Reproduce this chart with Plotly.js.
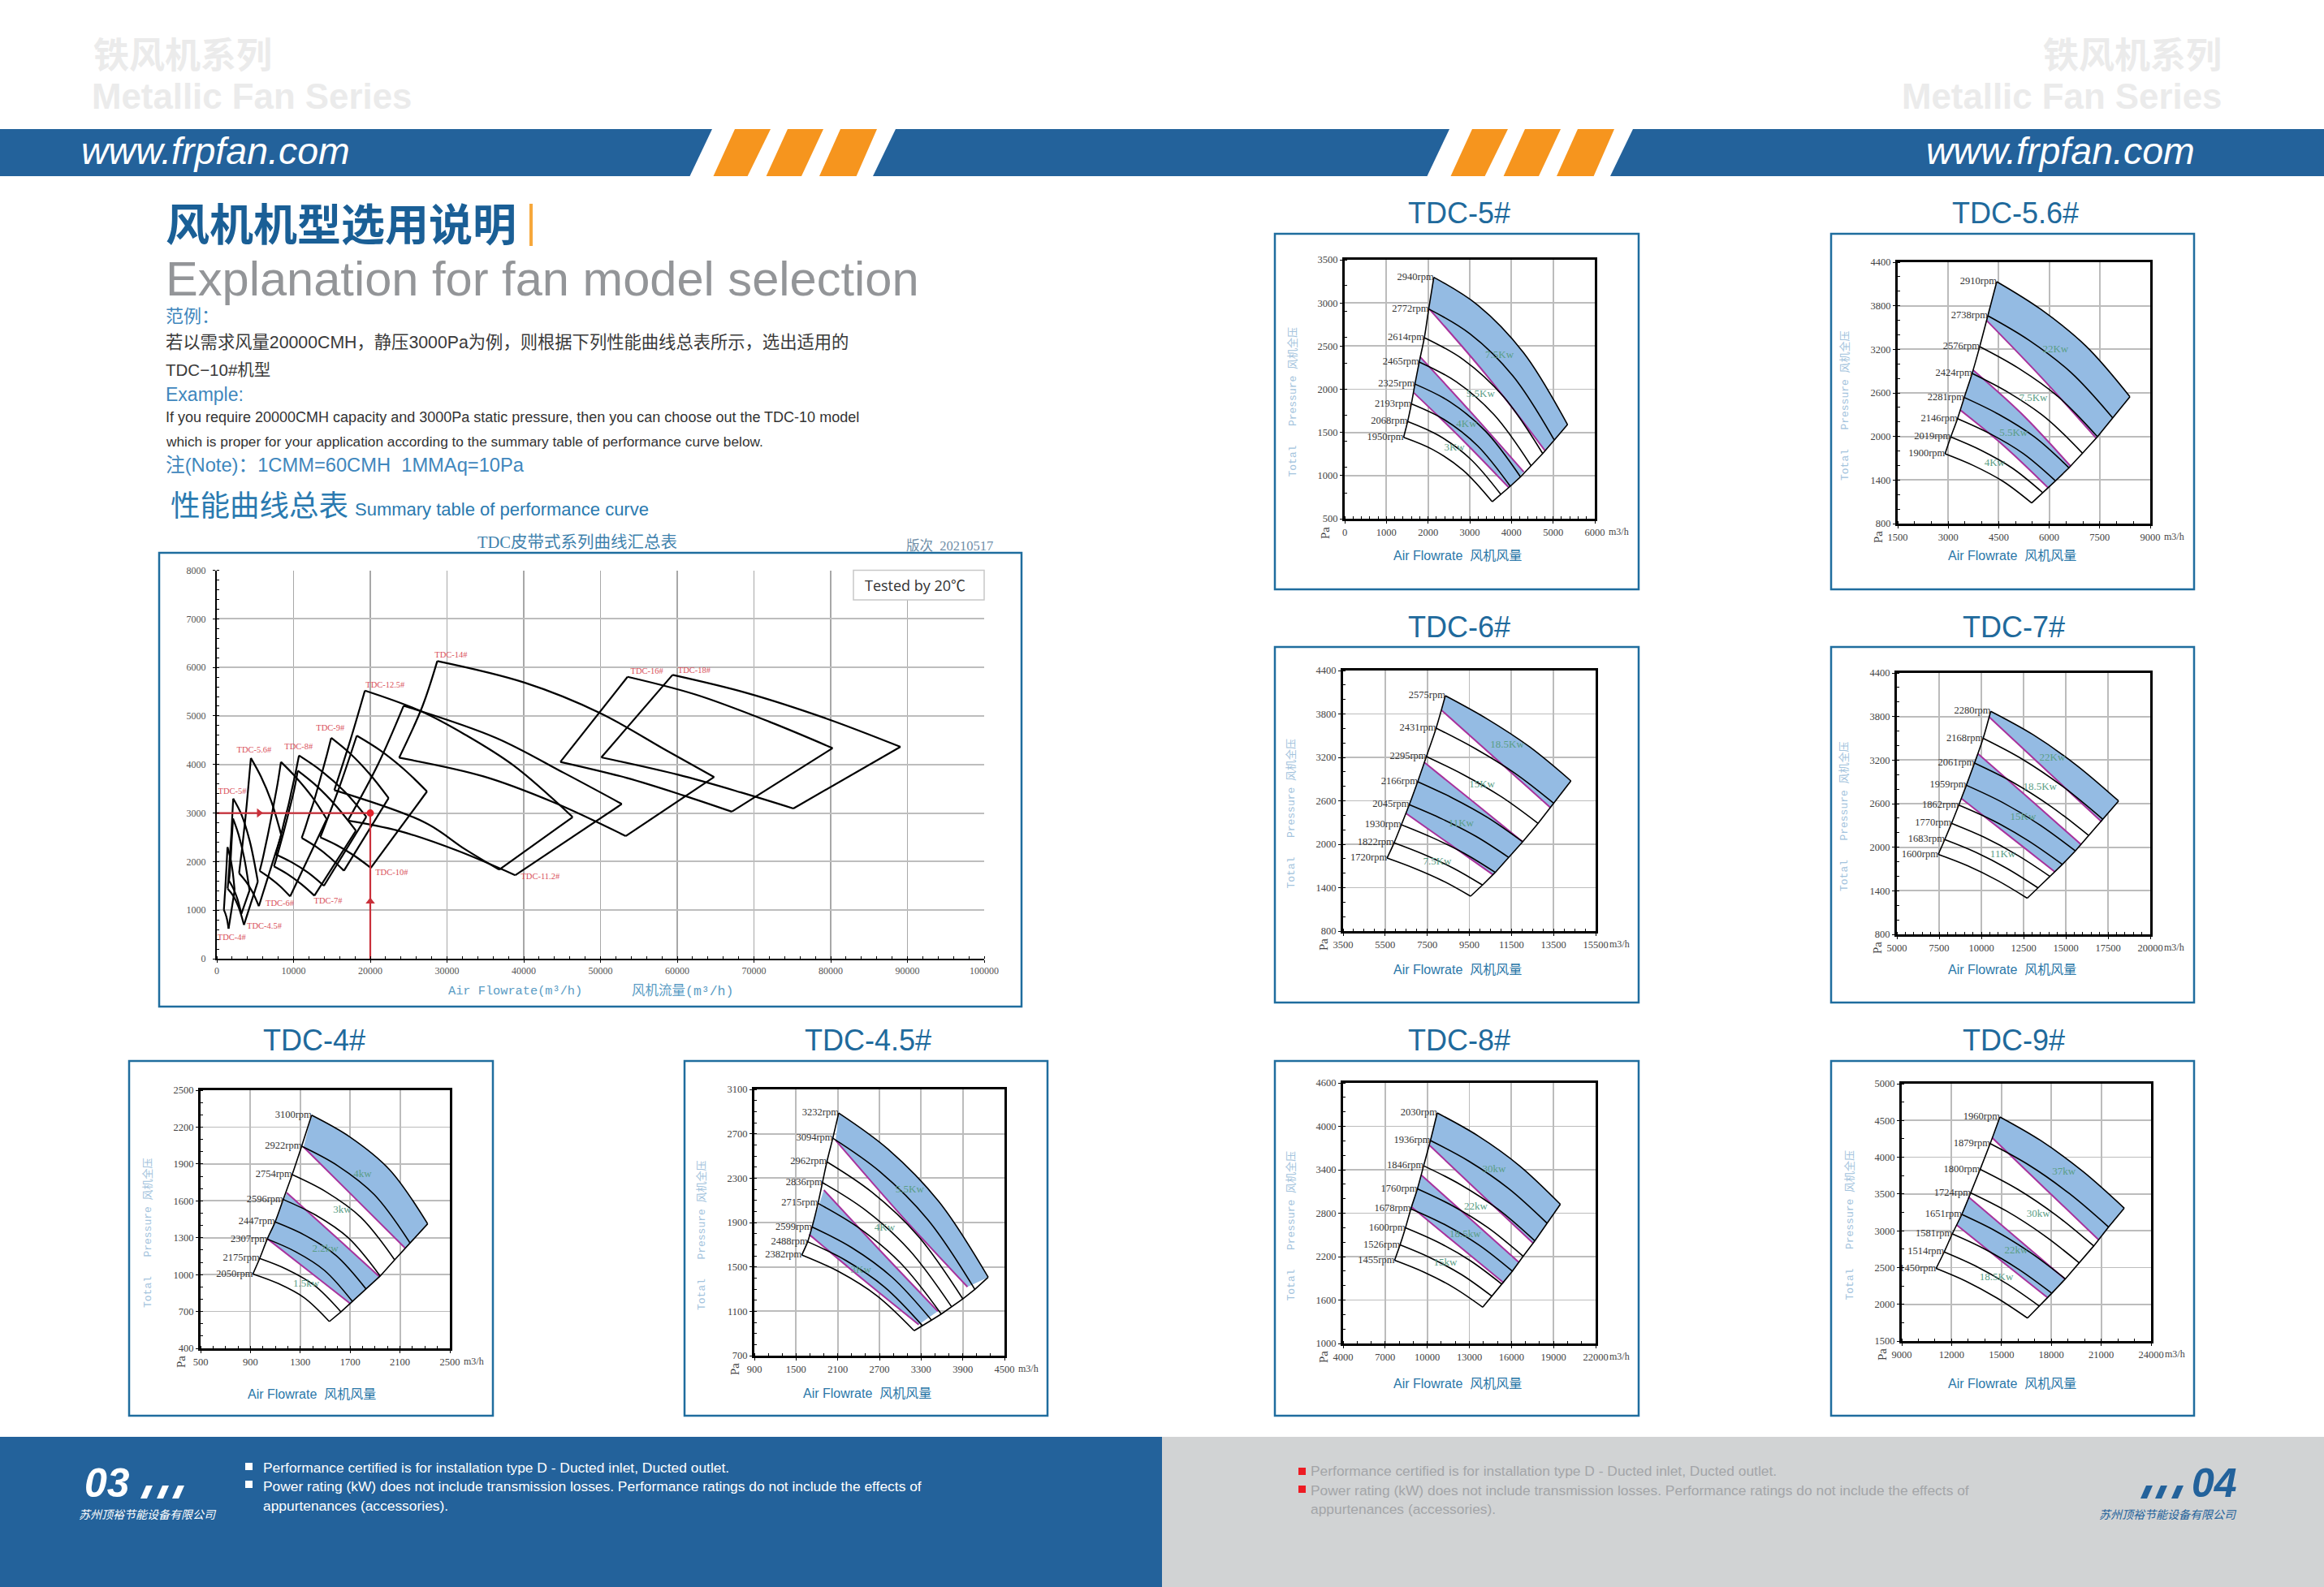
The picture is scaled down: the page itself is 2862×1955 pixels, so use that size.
<!DOCTYPE html>
<html><head><meta charset="utf-8">
<script src="https://cdn.plot.ly/plotly-3.0.1.min.js"></script>
<style>html,body{margin:0;padding:0;background:#fff}</style></head>
<body><div id="chart" style="width:2862px;height:1955px"></div>
<script>
// ---- TDC-4# ----
const tdc4Rpm=['3100rpm','2922rpm','2754rpm','2596rpm','2447rpm','2307rpm','2175rpm','2050rpm'];
const tdc4Flow=[[1391,1698,2015,2322],[1311,1598,1893,2180],[1235,1506,1786,2057],[1163,1420,1684,1941],[1098,1339,1587,1828],[1035,1261,1494,1720],[974,1189,1411,1626],[920,1122,1331,1533]];
const tdc4Press=[[2297,2120,1855,1413],[2044,1887,1651,1258],[1813,1674,1466,1120],[1611,1486,1300,988],[1428,1319,1155,882],[1289,1187,1034,779],[1131,1044,914,697],[1005,928,812,618]];
const tdc4LimitFlow=[[1326,1735,2143],[1191,1565,1937],[1039,1370,1702]];
const tdc4LimitPress=[[2038,1626,1214],[1666,1325,981],[1289,1027,763]];
const tdc4PowerText=['4kw','3kw','2.2kw','1.5kw'];
const tdc4PowerFlow=[1800,1637,1500,1348];
const tdc4PowerPress=[1813,1523,1208,922];
// ---- TDC-4.5# ----
const tdc45Rpm=['3232rpm','3094rpm','2962rpm','2836rpm','2715rpm','2599rpm','2488rpm','2382rpm'];
const tdc45Flow=[[2114,2824,3556,4266],[2029,2704,3399,4074],[1944,2589,3255,3900],[1880,2494,3126,3740],[1816,2401,3005,3590],[1731,2298,2883,3450],[1667,2212,2775,3320],[1582,2116,2666,3200]];
const tdc45Press=[[2887,2561,2088,1407],[2660,2360,1924,1297],[2447,2175,1780,1212],[2260,2014,1655,1140],[2073,1853,1534,1075],[1860,1675,1406,1020],[1727,1560,1318,970],[1607,1457,1239,925]];
const tdc45LimitFlow=[[2071,3019,3967],[1901,2721,3541],[1688,2476,3265]];
const tdc45LimitPress=[[2640,1960,1320],[2193,1640,1100],[1793,1380,980]];
const tdc45PowerText=['5.5Kw','4Kw','3Kw'];
const tdc45PowerFlow=[3137,2775,2434];
const tdc45PowerPress=[2193,1847,1473];
// ---- TDC-5# ----
const tdc5Rpm=['2940rpm','2772rpm','2614rpm','2465rpm','2325rpm','2193rpm','2068rpm','1950rpm'];
const tdc5Flow=[[2138,3197,4287,5346],[2015,3009,4034,5028],[1911,2848,3813,4750],[1788,2673,3586,4471],[1685,2521,3382,4218],[1600,2383,3189,3972],[1510,2248,3007,3745],[1413,2114,2837,3538]];
const tdc5Press=[[3297,2973,2426,1590],[2930,2641,2155,1411],[2598,2343,1913,1255],[2316,2088,1703,1114],[2060,1856,1512,985],[1831,1650,1344,876],[1627,1466,1196,782],[1443,1301,1063,697]];
const tdc5LimitFlow=[[2028,3415,4801],[1814,3052,4296],[1659,2799,3940]];
const tdc5LimitPress=[[2930,2154,1292],[2373,1721,1042],[1959,1427,860]];
const tdc5PowerText=['7.5Kw','5.5Kw','4Kw','3Kw'];
const tdc5PowerFlow=[3713,3259,2922,2631];
const tdc5PowerPress=[2388,1941,1590,1324];
// ---- TDC-5.6# ----
const tdc56Rpm=['2910rpm','2738rpm','2576rpm','2424rpm','2281rpm','2146rpm','2019rpm','1900rpm'];
const tdc56Flow=[[4442,5747,7092,8397],[4177,5400,6660,7883],[3936,5090,6279,7433],[3711,4793,5908,6990],[3477,4504,5561,6588],[3277,4237,5226,6186],[3076,3978,4907,5809],[2907,3756,4630,5479]];
const tdc56Press=[[4132,3752,3245,2548],[3662,3325,2875,2257],[3237,2939,2542,1996],[2868,2604,2253,1769],[2537,2304,1994,1568],[2246,2040,1766,1389],[1993,1809,1563,1225],[1761,1598,1381,1083]];
const tdc56LimitFlow=[[4137,5761,7392],[3735,5182,6629],[3373,4667,5961]];
const tdc56LimitPress=[[3599,2816,1978],[2917,2313,1594],[2358,1866,1296]];
const tdc56PowerText=['22Kw','7.5Kw','5.5Kw','4Kw'];
const tdc56PowerFlow=[6186,5527,4941,4378];
const tdc56PowerPress=[3196,2529,2041,1635];
// ---- TDC-6# ----
const tdc6Rpm=['2575rpm','2431rpm','2295rpm','2166rpm','2045rpm','1930rpm','1822rpm','1720rpm'];
const tdc6Flow=[[8359,10328,12358,14327],[7921,9767,11669,13515],[7457,9209,11015,12767],[7045,8691,10387,12033],[6645,8206,9814,11375],[6271,7743,9259,10731],[5923,7310,8738,10125],[5588,6898,8248,9558]];
const tdc6Press=[[4052,3734,3346,2875],[3604,3323,2980,2564],[3211,2962,2657,2288],[2864,2640,2366,2034],[2546,2349,2109,1817],[2269,2091,1874,1611],[2019,1862,1669,1436],[1809,1667,1493,1282]];
const tdc6LimitFlow=[[8192,10770,13347],[7367,9700,12033],[6490,8553,10628]];
const tdc6LimitPress=[[3847,3178,2508],[3129,2583,2034],[2426,2004,1578]];
const tdc6PowerText=['18.5Kw','15Kw','11Kw','7.5Kw'];
const tdc6PowerFlow=[11298,10099,9107,7973];
const tdc6PowerPress=[3372,2819,2288,1753];
// ---- TDC-7# ----
const tdc7Rpm=['2280rpm','2168rpm','2061rpm','1959rpm','1862rpm','1770rpm','1683rpm','1600rpm'];
const tdc7Flow=[[10555,13054,15628,18127],[10107,12447,14858,17198],[9594,11829,14131,16366],[9114,11243,13437,15566],[8666,10689,12774,14797],[8234,10162,12149,14077],[7834,9656,11534,13356],[7449,9187,10978,12716]];
const tdc7Press=[[3872,3551,3131,2637],[3500,3210,2830,2384],[3158,2899,2560,2161],[2853,2618,2311,1949],[2581,2368,2090,1763],[2328,2138,1889,1596],[2105,1932,1706,1440],[1901,1744,1539,1298]];
const tdc7LimitFlow=[[10475,13789,17118],[9802,12860,15918],[8842,11595,14365]];
const tdc7LimitPress=[[3790,3072,2351],[3288,2663,2035],[2667,2165,1659]];
const tdc7PowerText=['22Kw','18.5Kw','15Kw','11Kw'];
const tdc7PowerFlow=[14205,13469,12476,11275];
const tdc7PowerPress=[3225,2823,2414,1901];
// ---- TDC-8# ----
const tdc8Rpm=['2030rpm','1936rpm','1846rpm','1760rpm','1678rpm','1600rpm','1526rpm','1455rpm'];
const tdc8Flow=[[10709,13606,16590,19487],[10226,12969,15796,18539],[9742,12358,15053,17669],[9298,11786,14350,16838],[8834,11220,13678,16064],[8447,10712,13045,15310],[8060,10223,12451,14614],[7673,9747,11883,13957]];
const tdc8Press=[[4185,3870,3453,2923],[3803,3518,3141,2662],[3455,3196,2854,2418],[3137,2904,2596,2205],[2860,2645,2361,1999],[2598,2404,2147,1820],[2362,2184,1950,1651],[2149,1987,1773,1501]];
const tdc8LimitFlow=[[10167,13860,17572],[9587,13068,16548],[8872,12159,15446]];
const tdc8LimitPress=[[3736,3058,2381],[3324,2721,2119],[2886,2362,1838]];
const tdc8PowerText=['30kw','22kw','18.5kw','15kw'];
const tdc8PowerFlow=[14769,13454,12700,11289];
const tdc8PowerPress=[3402,2886,2504,2108];
// ---- TDC-9# ----
const tdc9Rpm=['1960rpm','1879rpm','1800rpm','1724rpm','1651rpm','1581rpm','1514rpm','1450rpm'];
const tdc9Flow=[[14906,17375,19920,22389],[14320,16672,19094,21446],[13718,15973,18296,20551],[13149,15307,17531,19689],[12612,14668,16787,18843],[12042,14018,16053,18029],[11554,13439,15380,17265],[11066,12881,14750,16565]];
const tdc9Press=[[4548,4225,3803,3307],[4185,3890,3504,3050],[3836,3565,3210,2793],[3516,3268,2943,2561],[3222,2994,2696,2345],[2958,2748,2473,2150],[2712,2521,2271,1977],[2488,2312,2082,1812]];
const tdc9LimitFlow=[[14450,17639,20844],[13018,15914,18810],[12303,15036,17785]];
const tdc9LimitPress=[[4262,3571,2877],[3461,2903,2345],[3079,2583,2088]];
const tdc9PowerText=['37kw','30kw','22kw','18.5Kw'];
const tdc9PowerFlow=[18761,17216,15882,14694];
const tdc9PowerPress=[3795,3222,2730,2359];
// ---- Summary chart: larger models (outlines only) ----
const tdc10TopFlow=[18239,21260,24373,27394], tdc10TopPress=[4594,4295,3904,3444];
const tdc10BottomFlow=[13486,15659,17897,20070], tdc10BottomPress=[2500,2337,2123,1872];
const tdc10LeftFlow=[18239,16000,13486], tdc10LeftPress=[4594,3547,2500];
const tdc112TopFlow=[24350,36380,45290,52780], tdc112TopPress=[5210,4549,3822,3187];
const tdc112BottomFlow=[17075,23760,31180,38900], tdc112BottomPress=[2843,2631,2235,1719];
const tdc112LeftFlow=[24350,21000,17075], tdc112LeftPress=[5210,4000,2843];
const tdc125TopFlow=[19296,26408,32394,38732,46373], tdc125TopPress=[5522,5111,4611,3972,2917];
const tdc125BottomFlow=[15317,27113,32394,36796], tdc125BottomPress=[3472,2806,2250,1833];
const tdc125LeftFlow=[19296,17400,15317], tdc125LeftPress=[5522,4500,3472];
const tdc14TopFlow=[28730,40090,49960,58650,64810], tdc14TopPress=[6129,5686,5058,4284,3742];
const tdc14BottomFlow=[23760,34740,43800,53300], tdc14BottomPress=[4139,3755,3226,2526];
const tdc14LeftFlow=[28730,26800,23760], tdc14LeftPress=[6129,5200,4139];
const tdc16TopFlow=[53530,62360,72010,80250], tdc16TopPress=[5805,5441,4880,4337];
const tdc16BottomFlow=[44770,53450,60880,67110], tdc16BottomPress=[4053,3722,3359,3028];
const tdc16LeftFlow=[53530,44770], tdc16LeftPress=[5805,4053];
const tdc18TopFlow=[59390,69040,79440,89090], tdc18TopPress=[5845,5474,4946,4364];
const tdc18BottomFlow=[50110,60130,68300,75130], tdc18BottomPress=[4146,3788,3425,3094];
const tdc18LeftFlow=[59390,50110], tdc18LeftPress=[5845,4146];
const modelLabels=['TDC-14#','TDC-12.5#','TDC-9#','TDC-8#','TDC-5.6#','TDC-5#','TDC-6#','TDC-7#','TDC-4.5#','TDC-4#','TDC-10#','TDC-11.2#','TDC-16#','TDC-18#'];
const modelLabelFlow=[30528,21937,14789,10669,4859,2007,8204,14507,6197,1937,22782,42148,56050,62210];
const modelLabelPress=[6250,5628,4739,4361,4289,3444,1128,1178,656,428,1767,1683,5918,5924];
const exampleFlow=20000, examplePress=3000;
const arrowFlow=[5500], arrowPress=[1180];

// ---- page layout ----
const W=2862,H=1955;
const fx=p=>p/W, fy=p=>1-p/H;
const SERIF='"Liberation Serif","Noto Sans CJK SC",serif';
const SANS='"Liberation Sans","Noto Sans CJK SC",sans-serif';
const MONO='"Liberation Mono","Noto Sans CJK SC",monospace';
const BLUE='#23629b';

const shapes=[], annotations=[], traces=[];
function rect(x0,y0,x1,y1,fill,line,lw){shapes.push({type:'rect',xref:'paper',yref:'paper',x0:fx(x0),x1:fx(x1),y0:fy(y1),y1:fy(y0),fillcolor:fill||'rgba(0,0,0,0)',line:{width:lw||0,color:line||'rgba(0,0,0,0)'},layer:'below'});}
function poly(pts,fill){shapes.push({type:'path',xref:'paper',yref:'paper',path:'M'+pts.map(p=>fx(p[0])+' '+fy(p[1])).join(' L')+' Z',fillcolor:fill,line:{width:0},layer:'below'});}
function label(text,x,y,size,color,o){o=o||{};annotations.push({text,xref:'paper',yref:'paper',x:fx(x),y:fy(y),xanchor:o.anchor||'left',yanchor:'middle',showarrow:false,textangle:o.angle||0,align:o.anchor||'left',borderpad:0,font:{family:o.font||SANS,size,color}});}

// header band
rect(0,159,W,217,'#ffffff');
poly([[0,159],[877,159],[849.5,217],[0,217]],BLUE);
poly([[1103,159],[1785,159],[1757.5,217],[1075,217]],BLUE);
poly([[2011,159],[W,159],[W,217],[1983,217]],BLUE);
[0,908].forEach(d=>{
  poly([[905+d,159],[949+d,159],[920.6+d,217],[878.5+d,217]],'#f6951e');
  poly([[970+d,159],[1014+d,159],[987+d,217],[943.6+d,217]],'#f6951e');
  poly([[1035+d,159],[1080+d,159],[1054.6+d,217],[1009+d,217]],'#f6951e');
});
label('<i>www.frpfan.com</i>',99,186,46.5,'#ffffff');
label('<i>www.frpfan.com</i>',2704,186,46.5,'#ffffff',{anchor:'right'});
const ghost='#ebebeb';
label('<b>铁风机系列</b>',114,69,44,ghost);
label('<b>Metallic Fan Series</b>',112,118,43.8,ghost);
label('<b>铁风机系列</b>',2737,69,44,ghost,{anchor:'right'});
label('<b>Metallic Fan Series</b>',2737,118,43.8,ghost,{anchor:'right'});

// intro text
label('<b>风机机型选用说明</b>',203,278,54,'#1a5f96');
rect(652,251,656,303,'#f6a83c');
label('Explanation for fan model selection',203,344,59.6,'#939598');
label('范例：',203,389,22,'#3f87bd');
label('若以需求风量20000CMH，静压3000Pa为例，则根据下列性能曲线总表所示，选出适用的',203,422,21.3,'#3a3a3a');
label('TDC−10#机型',203,455,20.5,'#3a3a3a');
label('Example:',203,486,23,'#3f87bd');
label('If you require 20000CMH capacity and 3000Pa static pressure, then you can choose out the TDC-10 model',203,514,18,'#333333');
label('which is proper for your application according to the summary table of performance curve below.',203,544,17.3,'#333333');
label('注(Note)：1CMM=60CMH  1MMAq=10Pa',203,573,23.7,'#3f87bd');
label('性能曲线总表',209,623,36.5,'#2a7ab0');
label('Summary table of performance curve',436,627,22,'#2a7ab0');

// footer
rect(0,1770,1431,H,BLUE);
rect(1431,1770,W,H,'#d1d3d4');
const footA='Performance certified is for installation type D - Ducted inlet, Ducted outlet.';
const footB='Power rating (kW) does not include transmission losses. Performance ratings do not include the effects of';
const footC='appurtenances (accessories).';
rect(302,1802,311,1811,'#ffffff');rect(302,1824,311,1833,'#ffffff');
label(footA,323,1808,17.4,'#ffffff');label(footB,323,1831,17.4,'#ffffff');label(footC,323,1855,17.4,'#ffffff');
rect(1599,1808,1608,1817,'#ed1c24');rect(1599,1830,1608,1839,'#ed1c24');
label(footA,1613,1812,17.4,'#a3a5a8');label(footB,1613,1836,17.4,'#a3a5a8');label(footC,1613,1859,17.4,'#a3a5a8');
label('<b><i>03</i></b>',103,1827,50,'#ffffff');
label('<b><i>04</i></b>',2698,1827,50,BLUE);
[173,193,212].forEach(x=>poly([[x,1846],[x+8,1846],[x+15,1830],[x+7,1830]],'#ffffff'));
[2636,2654,2674].forEach(x=>poly([[x,1846],[x+8,1846],[x+15,1830],[x+7,1830]],BLUE));
label('<i>苏州顶裕节能设备有限公司</i>',96,1866,14,'#ffffff');
label('<i>苏州顶裕节能设备有限公司</i>',2584,1866,14,BLUE);

// summary chart furniture
rect(196,681,1258,1240,'#ffffff','#1f6d9e',2.5);
label('TDC皮带式系列曲线汇总表',711,668,20.5,'#3f82ad',{anchor:'center',font:SERIF});
label('版次  20210517',1115,672,16.5,'#6f8ea8',{font:SERIF});
label('Air Flowrate(m³/h)',551,1221,15.3,'#5a9cc4',{font:MONO});
label('风机流量(m³/h)',777,1221,16.5,'#5a9cc4',{font:MONO});

const axisBase=(font)=>({showgrid:true,zeroline:false,showline:true,linecolor:'#000',tickcolor:'#000',ticks:'outside',tickformat:'d',tickfont:font,fixedrange:true});
const layoutAxes={};
const MAIN=[267,1212,702.5,1181];
layoutAxes.xaxis=Object.assign(axisBase({family:SERIF,size:12,color:'#555'}),{domain:[fx(MAIN[0]),fx(MAIN[1])],range:[0,100000],tick0:0,dtick:10000,gridcolor:'#a8a8a8',gridwidth:1.2,linewidth:2,ticklen:3,anchor:'y',minor:{tick0:0,dtick:2000,ticks:'inside',ticklen:3,tickcolor:'#000',showgrid:false}});
layoutAxes.yaxis=Object.assign(axisBase({family:SERIF,size:12,color:'#555'}),{domain:[fy(MAIN[3]),fy(MAIN[2])],range:[0,8000],tick0:0,dtick:1000,gridcolor:'#bdbdbd',gridwidth:2,linewidth:2,ticklen:3,ticklabelstandoff:6,anchor:'x',minor:{tick0:0,dtick:200,ticks:'inside',ticklen:3,tickcolor:'#000',showgrid:false}});

// ---- small charts ----
const charts=[
 {name:'TDC-4#',rpm:tdc4Rpm,flow:tdc4Flow,press:tdc4Press,limF:tdc4LimitFlow,limP:tdc4LimitPress,powT:tdc4PowerText,powF:tdc4PowerFlow,powP:tdc4PowerPress,xr:[500,2500],xd:400,xm:100,yr:[400,2500],yd:300,ym:100,plot:[247,554,1343,1661],frame:[159,607,1307,1744],tx:387,ty:1281,ax:384,ay:1717},
 {name:'TDC-4.5#',rpm:tdc45Rpm,flow:tdc45Flow,press:tdc45Press,limF:tdc45LimitFlow,limP:tdc45LimitPress,powT:tdc45PowerText,powF:tdc45PowerFlow,powP:tdc45PowerPress,xr:[900,4500],xd:600,xm:200,yr:[700,3100],yd:400,ym:100,plot:[929,1237,1342,1670],frame:[843,1290,1307,1744],tx:1069,ty:1281,ax:1068,ay:1716},
 {name:'TDC-5#',rpm:tdc5Rpm,flow:tdc5Flow,press:tdc5Press,limF:tdc5LimitFlow,limP:tdc5LimitPress,powT:tdc5PowerText,powF:tdc5PowerFlow,powP:tdc5PowerPress,xr:[0,6000],xd:1000,xm:200,yr:[500,3500],yd:500,ym:300,plot:[1656,1964,320,639],frame:[1570,2018,288,726],tx:1797,ty:262,ax:1795,ay:685},
 {name:'TDC-5.6#',rpm:tdc56Rpm,flow:tdc56Flow,press:tdc56Press,limF:tdc56LimitFlow,limP:tdc56LimitPress,powT:tdc56PowerText,powF:tdc56PowerFlow,powP:tdc56PowerPress,xr:[1500,9000],xd:1500,xm:500,yr:[800,4400],yd:600,ym:200,plot:[2337,2648,323,645],frame:[2255,2702,288,726],tx:2482,ty:262,ax:2478,ay:685},
 {name:'TDC-6#',rpm:tdc6Rpm,flow:tdc6Flow,press:tdc6Press,limF:tdc6LimitFlow,limP:tdc6LimitPress,powT:tdc6PowerText,powF:tdc6PowerFlow,powP:tdc6PowerPress,xr:[3500,15500],xd:2000,xm:500,yr:[800,4400],yd:600,ym:200,plot:[1654,1965,826,1147],frame:[1570,2018,797,1235],tx:1797,ty:772,ax:1795,ay:1194},
 {name:'TDC-7#',rpm:tdc7Rpm,flow:tdc7Flow,press:tdc7Press,limF:tdc7LimitFlow,limP:tdc7LimitPress,powT:tdc7PowerText,powF:tdc7PowerFlow,powP:tdc7PowerPress,xr:[5000,20000],xd:2500,xm:500,yr:[800,4400],yd:600,ym:200,plot:[2336,2648,829,1151],frame:[2255,2702,797,1235],tx:2480,ty:772,ax:2478,ay:1194},
 {name:'TDC-8#',rpm:tdc8Rpm,flow:tdc8Flow,press:tdc8Press,limF:tdc8LimitFlow,limP:tdc8LimitPress,powT:tdc8PowerText,powF:tdc8PowerFlow,powP:tdc8PowerPress,xr:[4000,22000],xd:3000,xm:1000,yr:[1000,4600],yd:600,ym:200,plot:[1654,1965,1334,1655],frame:[1570,2018,1307,1744],tx:1797,ty:1281,ax:1795,ay:1704},
 {name:'TDC-9#',rpm:tdc9Rpm,flow:tdc9Flow,press:tdc9Press,limF:tdc9LimitFlow,limP:tdc9LimitPress,powT:tdc9PowerText,powF:tdc9PowerFlow,powP:tdc9PowerPress,xr:[9000,24000],xd:3000,xm:1000,yr:[1500,5000],yd:500,ym:250,plot:[2342,2649,1335,1652],frame:[2255,2702,1307,1744],tx:2480,ty:1281,ax:2478,ay:1704}
];
const first=a=>a.map(c=>c[0]), last=a=>a.map(c=>c[c.length-1]);
function gapped(list){const out=[];list.forEach((l,i)=>{if(i)out.push(null);out.push(...l);});return out;}
const BAND='#94bbe3', MAG='#a8329c';
const base={type:'scatter',hoverinfo:'skip',showlegend:false};

charts.forEach((c,i)=>{
  const n=i+2, xa='x'+n, ya='y'+n, [L,R,T,B]=c.plot, [fl,fr,ft,fb]=c.frame;
  rect(fl,ft,fr,fb,'#ffffff','#1f6d9e',2.5);
  label(c.name,c.tx,c.ty,36,'#1f6a9c',{anchor:'center'});
  label('Total   Pressure 风机全压',L-65,(T+B)/2+16,13,'#a3c3dd',{anchor:'center',angle:-90,font:MONO});
  label('Pa',L-24,B+17,15,'#444',{anchor:'center',angle:-90,font:SERIF});
  label('m3/h',R+29,B+16,12,'#444',{anchor:'center',font:SERIF});
  label('Air Flowrate  风机风量',c.ax,c.ay,16,'#2a77a8',{anchor:'center'});
  const tf={family:SERIF,size:12.5,color:'#444'};
  layoutAxes['xaxis'+n]=Object.assign(axisBase(tf),{domain:[fx(L),fx(R)],range:c.xr,tick0:c.xr[0],dtick:c.xd,gridcolor:'#bcbcbc',gridwidth:1.8,linewidth:3,mirror:true,ticklen:3,anchor:ya,minor:{tick0:c.xr[0],dtick:c.xm,ticks:'inside',ticklen:3,tickcolor:'#000',showgrid:false}});
  layoutAxes['yaxis'+n]=Object.assign(axisBase(tf),{domain:[fy(B),fy(T)],range:c.yr,tick0:c.yr[0],dtick:c.yd,gridcolor:'#bcbcbc',gridwidth:1.8,linewidth:3,mirror:true,ticklen:3,anchor:xa,minor:{tick0:c.yr[0],dtick:c.ym,ticks:'inside',ticklen:3,tickcolor:'#000',showgrid:false}});
  const ax={xaxis:xa,yaxis:ya};
  const hidden={color:'rgba(0,0,0,0)',width:1,shape:'spline'};
  // blue bands: lower edge then upper edge filled down to it
  traces.push(Object.assign({},base,ax,{mode:'lines',x:c.limF[0],y:c.limP[0],line:hidden}));
  traces.push(Object.assign({},base,ax,{mode:'lines',x:c.flow[0],y:c.press[0],line:hidden,fill:'tonexty',fillcolor:BAND}));
  traces.push(Object.assign({},base,ax,{mode:'lines',x:c.limF[2],y:c.limP[2],line:hidden}));
  traces.push(Object.assign({},base,ax,{mode:'lines',x:c.limF[1],y:c.limP[1],line:hidden,fill:'tonexty',fillcolor:BAND}));
  // power limit lines
  traces.push(Object.assign({},base,ax,{mode:'lines',x:gapped(c.limF),y:gapped(c.limP),line:{color:MAG,width:2,shape:'spline'}}));
  // speed curves and the two boundary lines
  traces.push(Object.assign({},base,ax,{mode:'lines',x:gapped(c.flow),y:gapped(c.press),line:{color:'#000',width:1.6,shape:'spline'}}));
  traces.push(Object.assign({},base,ax,{mode:'lines',x:first(c.flow),y:first(c.press),line:{color:'#000',width:1.6,shape:'spline'}}));
  traces.push(Object.assign({},base,ax,{mode:'lines',x:last(c.flow),y:last(c.press),line:{color:'#000',width:1.6}}));
  // labels
  traces.push(Object.assign({},base,ax,{mode:'text',x:first(c.flow),y:first(c.press),text:c.rpm,textposition:'middle left',cliponaxis:false,textfont:{family:SERIF,size:12.5,color:'#333'}}));
  traces.push(Object.assign({},base,ax,{mode:'text',x:c.powF,y:c.powP,text:c.powT,textposition:'middle center',textfont:{family:SERIF,size:13,color:'#5b9e86'}}));
});

// ---- summary chart marks ----
const outlines=[
 [tdc4Flow[0],tdc4Press[0],tdc4Flow[7],tdc4Press[7],first(tdc4Flow),first(tdc4Press)],
 [tdc45Flow[0],tdc45Press[0],tdc45Flow[7],tdc45Press[7],first(tdc45Flow),first(tdc45Press)],
 [tdc5Flow[0],tdc5Press[0],tdc5Flow[7],tdc5Press[7],first(tdc5Flow),first(tdc5Press)],
 [tdc56Flow[0],tdc56Press[0],tdc56Flow[7],tdc56Press[7],first(tdc56Flow),first(tdc56Press)],
 [tdc6Flow[0],tdc6Press[0],tdc6Flow[7],tdc6Press[7],first(tdc6Flow),first(tdc6Press)],
 [tdc7Flow[0],tdc7Press[0],tdc7Flow[7],tdc7Press[7],first(tdc7Flow),first(tdc7Press)],
 [tdc8Flow[0],tdc8Press[0],tdc8Flow[7],tdc8Press[7],first(tdc8Flow),first(tdc8Press)],
 [tdc9Flow[0],tdc9Press[0],tdc9Flow[7],tdc9Press[7],first(tdc9Flow),first(tdc9Press)],
 [tdc10TopFlow,tdc10TopPress,tdc10BottomFlow,tdc10BottomPress,tdc10LeftFlow,tdc10LeftPress],
 [tdc112TopFlow,tdc112TopPress,tdc112BottomFlow,tdc112BottomPress,tdc112LeftFlow,tdc112LeftPress],
 [tdc125TopFlow,tdc125TopPress,tdc125BottomFlow,tdc125BottomPress,tdc125LeftFlow,tdc125LeftPress],
 [tdc14TopFlow,tdc14TopPress,tdc14BottomFlow,tdc14BottomPress,tdc14LeftFlow,tdc14LeftPress],
 [tdc16TopFlow,tdc16TopPress,tdc16BottomFlow,tdc16BottomPress,tdc16LeftFlow,tdc16LeftPress],
 [tdc18TopFlow,tdc18TopPress,tdc18BottomFlow,tdc18BottomPress,tdc18LeftFlow,tdc18LeftPress]
];
outlines.forEach(o=>{
  const [tf,tp,bf,bp,lf,lp]=o;
  const rf=[tf[tf.length-1],bf[bf.length-1]], rp=[tp[tp.length-1],bp[bp.length-1]];
  traces.push(Object.assign({},base,{xaxis:'x',yaxis:'y',mode:'lines',x:gapped([tf,rf,bf,lf]),y:gapped([tp,rp,bp,lp]),line:{color:'#000',width:2.2,shape:'spline'}}));
});
const RED='#c9303a';
traces.push(Object.assign({},base,{xaxis:'x',yaxis:'y',mode:'lines',x:[0,exampleFlow,exampleFlow],y:[examplePress,examplePress,0],line:{color:RED,width:2.2}}));
traces.push(Object.assign({},base,{xaxis:'x',yaxis:'y',mode:'markers',x:arrowFlow,y:[examplePress],marker:{symbol:'triangle-right',size:10,color:RED}}));
traces.push(Object.assign({},base,{xaxis:'x',yaxis:'y',mode:'markers',x:[exampleFlow],y:arrowPress,marker:{symbol:'triangle-up',size:10,color:RED}}));
traces.push(Object.assign({},base,{xaxis:'x',yaxis:'y',mode:'markers',x:[exampleFlow],y:[examplePress],marker:{symbol:'circle',size:9,color:'#e0222c'}}));
traces.push(Object.assign({},base,{xaxis:'x',yaxis:'y',mode:'text',x:modelLabelFlow,y:modelLabelPress,text:modelLabels,textposition:'middle center',cliponaxis:false,textfont:{family:SERIF,size:10.5,color:'#d9505a'}}));

// "Tested by" box sits over the summary plot
shapes.push({type:'rect',xref:'paper',yref:'paper',x0:fx(1051),x1:fx(1212),y0:fy(739),y1:fy(702.5),fillcolor:'#ffffff',line:{color:'#c8c8c8',width:1.5},layer:'above'});
label('Tested by 20℃',1064,721,18,'#333333',{font:'"Open Sans","Noto Sans CJK SC",sans-serif'});

const layout=Object.assign({width:W,height:H,margin:{l:0,r:0,t:0,b:0,pad:0},autosize:false,paper_bgcolor:'#ffffff',plot_bgcolor:'rgba(0,0,0,0)',showlegend:false,shapes,annotations},layoutAxes);
Plotly.newPlot('chart',traces,layout,{displayModeBar:false,staticPlot:true});
</script></body></html>
